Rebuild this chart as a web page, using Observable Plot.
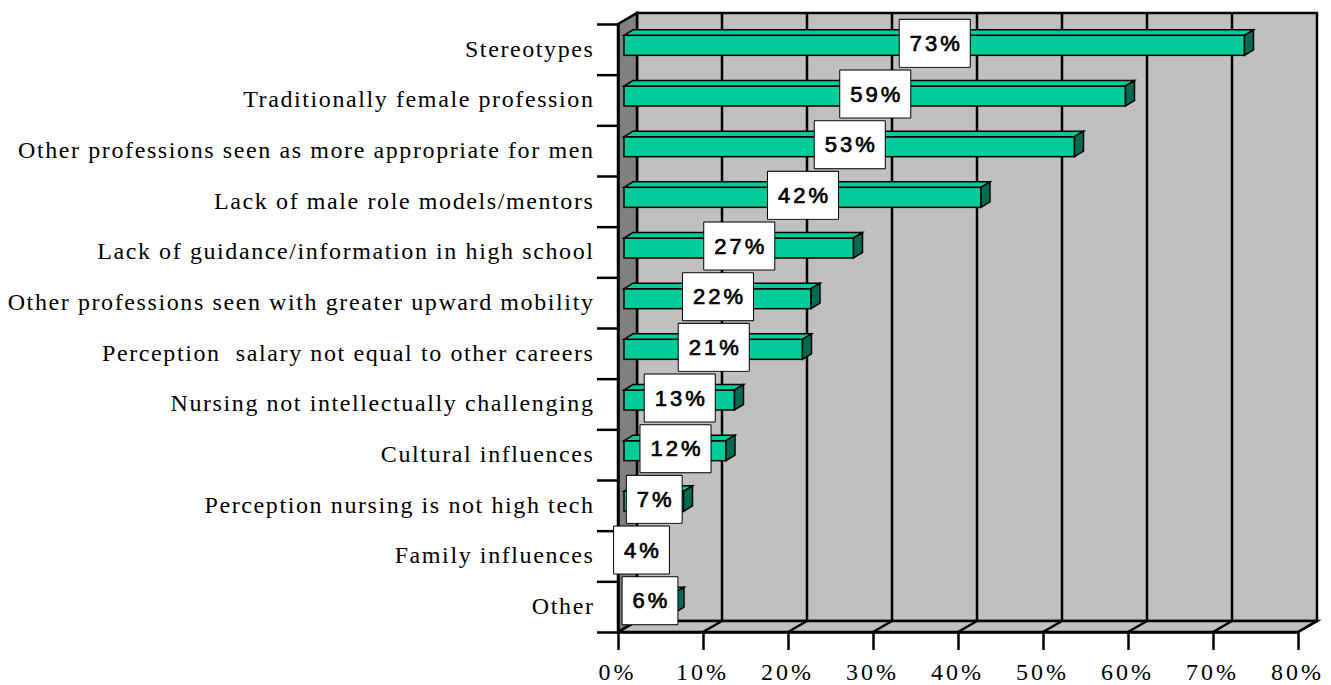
<!DOCTYPE html>
<html><head><meta charset="utf-8">
<script src="https://cdn.jsdelivr.net/npm/d3@7"></script>
<script src="https://cdn.jsdelivr.net/npm/@observablehq/plot@0.6"></script>
<style>
body{margin:0;background:#fff;}
g[font-family="Liberation Serif, Times New Roman, serif"] text{letter-spacing:1.6px;}
g[font-family="Liberation Serif, serif"] text{letter-spacing:3px;}
g[font-family="Liberation Sans, Arial, sans-serif"] text{letter-spacing:3px;}
</style></head><body><div id="chart"></div>
<script>
const categories = [
  "Stereotypes",
  "Traditionally female profession",
  "Other professions seen as more appropriate for men",
  "Lack of male role models/mentors",
  "Lack of guidance/information in high school",
  "Other professions seen with greater upward mobility",
  "Perception  salary not equal to other careers",
  "Nursing not intellectually challenging",
  "Cultural influences",
  "Perception nursing is not high tech",
  "Family influences",
  "Other"
];
const values = [73, 59, 53, 42, 27, 22, 21, 13, 12, 7, 4, 6];
const valueLabels = ["73%", "59%", "53%", "42%", "27%", "22%", "21%", "13%", "12%", "7%", "4%", "6%"];
const xTicks = [0, 10, 20, 30, 40, 50, 60, 70, 80];
const xTickLabels = ["0%", "10%", "20%", "30%", "40%", "50%", "60%", "70%", "80%"];
const yBoundaries = d3.range(categories.length + 1);

// 3D geometry (pixels)
const DX = 19, DY = -11;          // wall depth
const B0X = 6, B0Y = -4;          // bar front face offset
const BDX = 9, BDY = -5.5;        // bar depth
const BAR_H = 20;

const rows = values.map((v, i) => ({cat: categories[i], v, label: valueLabels[i], i}));
const pts = a => a.map(p => p.join(",")).join(" ");
const N = categories.length;

function frame3d(index, scales) {
  const x = scales.x, y = scales.y;
  const x0 = x(0), x1 = x(80), yt = y(0), yb = y(N);
  const g = d3.create("svg:g").attr("stroke", "#000").attr("stroke-width", 2.5).attr("stroke-linejoin", "miter");
  g.append("polygon").attr("points", pts([[x0+DX,yt+DY],[x1+DX,yt+DY],[x1+DX,yb+DY],[x0+DX,yb+DY]])).attr("fill", "#c0c0c0");
  g.append("polygon").attr("points", pts([[x0,yt],[x0+DX,yt+DY],[x0+DX,yb+DY],[x0,yb]])).attr("fill", "#808080");
  g.append("polygon").attr("points", pts([[x0,yb],[x0+DX,yb+DY],[x1+DX,yb+DY],[x1,yb]])).attr("fill", "#c0c0c0");
  for (const t of xTicks) {
    if (t > 0 && t < 80) g.append("line").attr("x1", x(t)+DX).attr("x2", x(t)+DX).attr("y1", yt+DY).attr("y2", yb+DY);
    g.append("line").attr("x1", x(t)).attr("x2", x(t)+DX).attr("y1", yb).attr("y2", yb+DY);
  }
  return g.node();
}

function barFaces(index, scales) {
  const x = scales.x, y = scales.y;
  const g = d3.create("svg:g").attr("stroke", "#000").attr("stroke-width", 1.5).attr("stroke-linejoin", "miter");
  for (const r of rows) {
    const xl = x(0) + B0X, xr = x(r.v) + B0X;
    const yc = (y(r.i) + y(r.i + 1)) / 2 + B0Y;
    const top = yc - BAR_H / 2, bot = yc + BAR_H / 2;
    g.append("polygon").attr("points", pts([[xl,top],[xr,top],[xr+BDX,top+BDY],[xl+BDX,top+BDY]])).attr("fill", "#00cc99");
    g.append("polygon").attr("points", pts([[xr,top],[xr+BDX,top+BDY],[xr+BDX,bot+BDY],[xr,bot]])).attr("fill", "#006b50");
  }
  return g.node();
}

const band = (632 - 24) / N;
const inset = (band - BAR_H) / 2;

const svg = Plot.plot({
  width: 1331,
  height: 685,
  marginLeft: 618,
  marginRight: 33,
  marginTop: 24,
  marginBottom: 53,
  style: {background: "#fff", overflow: "visible"},
  x: {domain: [0, 80], axis: null, label: null},
  y: {domain: [0, N], reverse: true, axis: null, label: null},
  marks: [
    frame3d,
    Plot.rect(rows, {x1: 0, x2: "v", y1: "i", y2: d => d.i + 1, insetTop: inset, insetBottom: inset, dx: B0X, dy: B0Y, fill: "#00cc99", stroke: "#000", strokeWidth: 1.5}),
    barFaces,
    Plot.ruleX([0], {y1: 0, y2: N, stroke: "#000", strokeWidth: 2.5}),
    Plot.ruleY([N], {x1: 0, x2: 80, stroke: "#000", strokeWidth: 2.5}),
    Plot.axisY(yBoundaries, {tickSize: 21, tickFormat: () => "", label: null, stroke: "#000", strokeWidth: 2.5}),
    Plot.axisX(xTicks, {tickSize: 18, tickFormat: () => "", label: null, stroke: "#000", strokeWidth: 2.5}),
    Plot.text(xTicks, {x: d => d, y: N, dy: 40, text: d => xTickLabels[xTicks.indexOf(d)], fontSize: 24, fontFamily: "Liberation Serif, serif", fill: "#000", dx: -1}),
    Plot.text(rows, {x: 0, y: d => d.i + 0.5, text: "cat", textAnchor: "end", dx: -24, dy: -1, fontSize: 24, fontFamily: "Liberation Serif, Times New Roman, serif", fill: "#000"}),
    Plot.text(rows, {x: d => d.v / 2, y: d => d.i + 0.5, text: "label", dx: B0X + 1.5, dy: B0Y - 2, fontSize: 22, fontFamily: "Liberation Sans, Arial, sans-serif", fill: "#000", stroke: "#000", strokeWidth: 0.7})
  ]
});
document.getElementById("chart").appendChild(svg);

// white boxes behind value labels
d3.select(svg).selectAll('g[font-family="Liberation Sans, Arial, sans-serif"] text').each(function() {
  const bb = this.getBBox();
  const w = bb.width - 3 + 20, h = 47;
  const cx = bb.x + (bb.width - 3) / 2, cy = bb.y + bb.height / 2;
  const rect = document.createElementNS("http://www.w3.org/2000/svg", "rect");
  rect.setAttribute("x", cx - w / 2);
  rect.setAttribute("y", cy - h / 2);
  rect.setAttribute("width", w);
  rect.setAttribute("height", h);
  rect.setAttribute("fill", "#fff");
  rect.setAttribute("stroke", "#000");
  rect.setAttribute("stroke-width", 2);
  const tr = this.getAttribute("transform");
  if (tr) rect.setAttribute("transform", tr);
  this.parentNode.insertBefore(rect, this);
});
</script></body></html>
